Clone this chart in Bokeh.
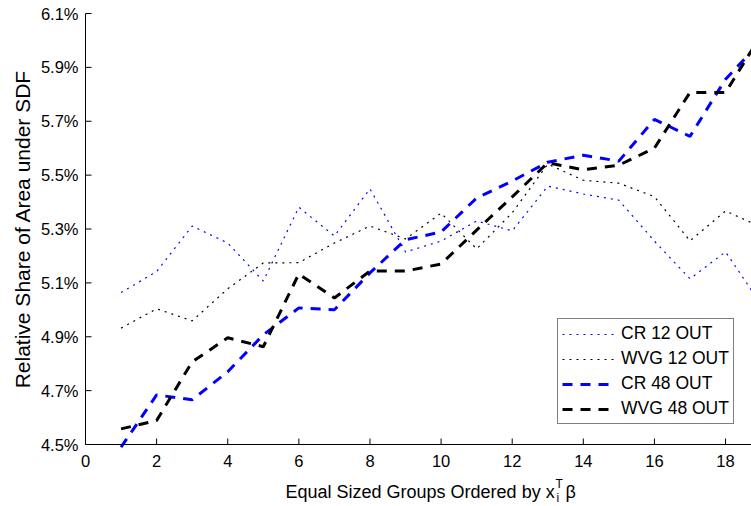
import math
from bokeh.plotting import figure
from bokeh.models import Range1d, Legend, LegendItem
from bokeh.core.properties import value
from bokeh.embed import file_html
from bokeh.resources import INLINE

# data (values in percent)
groups = list(range(1, 20))
cr12 = [5.064, 5.142, 5.311, 5.248, 5.107, 5.381, 5.274, 5.449, 5.215, 5.255,
        5.330, 5.293, 5.459, 5.430, 5.407, 5.255, 5.115, 5.215, 5.020]
wvg12 = [4.932, 5.004, 4.959, 5.078, 5.174, 5.175, 5.248, 5.311, 5.263, 5.359,
         5.226, 5.360, 5.541, 5.481, 5.470, 5.420, 5.256, 5.367, 5.307]
cr48 = [4.490, 4.684, 4.666, 4.770, 4.907, 5.007, 5.000, 5.137, 5.260, 5.289,
        5.415, 5.478, 5.548, 5.574, 5.552, 5.707, 5.644, 5.856, 5.996]
wvg48 = [4.558, 4.589, 4.807, 4.896, 4.863, 5.133, 5.044, 5.144, 5.144, 5.170,
         5.296, 5.419, 5.546, 5.520, 5.537, 5.600, 5.807, 5.807, 6.020]

x_ticks = [0, 2, 4, 6, 8, 10, 12, 14, 16, 18]
y_ticks = [4.5, 4.7, 4.9, 5.1, 5.3, 5.5, 5.7, 5.9, 6.1]
x_tick_labels = [str(t) for t in x_ticks]
y_tick_labels = ["%.1f%%" % t for t in y_ticks]
series_names = ["CR 12 OUT", "WVG 12 OUT", "CR 48 OUT", "WVG 48 OUT"]
y_title = "Relative Share of Area under SDF"
x_title = "Equal Sized Groups Ordered by x"

FONT = "Liberation Sans"

# plot-area geometry (pixels) and data limits
W, H = 751, 506
LEFT, TOP, BOTTOM = 85, 13, 62
XMIN, XMAX = 0.0, 18.73
YMIN, YMAX = 4.5, 6.1
sx = (W - LEFT) / (XMAX - XMIN)
sy = (H - TOP - BOTTOM) / (YMAX - YMIN)

p = figure(width=W, height=H, output_backend="svg", toolbar_location=None,
           x_range=Range1d(XMIN - LEFT / sx, XMAX),
           y_range=Range1d(YMIN - BOTTOM / sy, YMAX + TOP / sy),
           x_axis_location=None, y_axis_location=None,
           min_border=0, min_border_left=0, min_border_right=0,
           min_border_top=0, min_border_bottom=0)
p.outline_line_color = None
p.grid.visible = False
p.background_fill_color = "white"
p.border_fill_color = "white"

# series
r1 = p.line(groups, cr12, line_color="#0000ff", line_width=1.2, line_dash="2 5")
r2 = p.line(groups, wvg12, line_color="black", line_width=1.2, line_dash="2 5")
r3 = p.line(groups, cr48, line_color="#0000ff", line_width=3, line_dash="10 8")
r4 = p.line(groups, wvg48, line_color="black", line_width=3, line_dash="10 8")

# axes lines
p.segment(x0=[XMIN, XMIN], y0=[YMIN, YMIN], x1=[XMAX, XMIN], y1=[YMIN, YMAX],
          line_color="black", line_width=1)
# ticks (inward, 6 px)
p.segment(x0=x_ticks, y0=[YMIN] * len(x_ticks), x1=x_ticks,
          y1=[YMIN + 6 / sy] * len(x_ticks), line_color="black", line_width=1)
p.segment(x0=[XMIN] * len(y_ticks), y0=y_ticks, x1=[XMIN + 6 / sx] * len(y_ticks),
          y1=y_ticks, line_color="black", line_width=1)

# tick labels
p.text(x=x_ticks, y=[YMIN] * len(x_ticks), text=x_tick_labels, y_offset=10,
       text_align="center", text_baseline="top", text_font=value(FONT),
       text_font_size=value("16.5px"), text_color="black")
p.text(x=[XMIN] * len(y_ticks), y=y_ticks, text=y_tick_labels, x_offset=-7,
       text_align="right", text_baseline="middle", text_font=value(FONT),
       text_font_size=value("16.5px"), text_color="black")

# y title
p.text(x=[XMIN], y=[(YMIN + YMAX) / 2], text=[y_title], x_offset=-63,
       angle=math.pi / 2, text_align="center", text_baseline="middle",
       text_font=value(FONT), text_font_size=value("21px"), text_color="black")

# x title with sub/superscript
p.text(x=[XMIN], y=[YMIN], text=[x_title], x_offset=200, y_offset=47,
       text_align="left", text_baseline="alphabetic", text_font=value(FONT),
       text_font_size=value("18px"), text_color="black")
p.text(x=[XMIN], y=[YMIN], text=["T"], x_offset=470, y_offset=39,
       text_align="left", text_baseline="alphabetic", text_font=value(FONT),
       text_font_size=value("12px"), text_color="black")
p.text(x=[XMIN], y=[YMIN], text=["i"], x_offset=471, y_offset=53,
       text_align="left", text_baseline="alphabetic", text_font=value(FONT),
       text_font_size=value("12px"), text_color="black")
p.text(x=[XMIN], y=[YMIN], text=["β"], x_offset=480, y_offset=47,
       text_align="left", text_baseline="alphabetic", text_font=value(FONT),
       text_font_size=value("18px"), text_color="black")

legend = Legend(items=[LegendItem(label=series_names[0], renderers=[r1]),
                       LegendItem(label=series_names[1], renderers=[r2]),
                       LegendItem(label=series_names[2], renderers=[r3]),
                       LegendItem(label=series_names[3], renderers=[r4])],
                location=(557, 82))
legend.border_line_color = "black"
legend.border_line_width = 1
legend.background_fill_color = "white"
legend.background_fill_alpha = 1
legend.label_text_font = FONT
legend.label_text_font_size = "17.5px"
legend.label_text_color = "black"
legend.glyph_width = 53
legend.glyph_height = 20
legend.label_height = 20
legend.label_standoff = 6
legend.spacing = 4
legend.padding = 4
legend.margin = 0
p.add_layout(legend)

open("out.html", "w").write(file_html(p, INLINE))
